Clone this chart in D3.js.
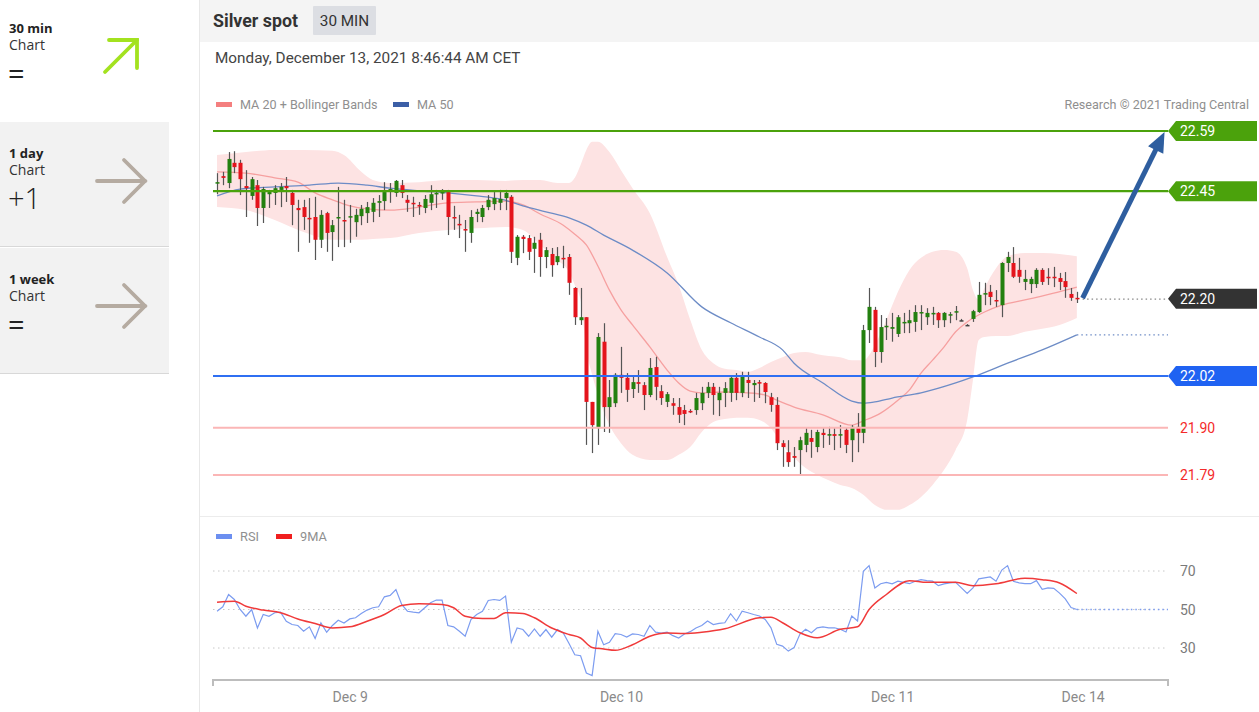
<!DOCTYPE html>
<html><head><meta charset="utf-8">
<script src="https://cdn.jsdelivr.net/npm/d3@7"></script>
<style>
body{margin:0;background:#fff;overflow:hidden}
svg{display:block}
</style></head><body>
<svg id="chart" width="1259" height="712"></svg>
<script>
// ---------------- DATA ----------------
const candleOpen = [
22.469,22.485,22.469,22.516,22.516,22.462,22.439,22.464,22.411,22.443,
22.446,22.453,22.462,22.446,22.411,22.413,22.388,22.390,22.337,22.399,
22.355,22.388,22.383,22.390,22.378,22.392,22.399,22.402,22.423,22.427,
22.453,22.446,22.464,22.430,22.423,22.418,22.411,22.423,22.443,22.446,
22.448,22.390,22.374,22.362,22.353,22.397,22.390,22.413,22.420,22.423,
22.434,22.437,22.295,22.344,22.341,22.316,22.337,22.297,22.304,22.285,
22.295,22.297,22.225,22.150,22.157,21.960,21.899,22.100,21.948,21.957,
22.023,22.016,21.990,22.006,21.999,21.976,22.041,21.985,21.960,21.957,
21.948,21.941,21.939,21.941,21.957,21.981,21.995,21.964,21.981,21.981,
22.016,21.981,22.011,21.999,22.006,22.004,21.971,21.953,21.864,21.843,
21.834,21.848,21.860,21.876,21.855,21.888,21.883,21.885,21.883,21.895,
21.871,21.902,21.888,22.127,22.174,22.076,22.134,22.130,22.118,22.143,
22.143,22.146,22.167,22.157,22.164,22.167,22.150,22.162,22.169,22.150,
22.139,22.153,22.169,22.211,22.216,22.197,22.185,22.283,22.283,22.267,
22.239,22.234,22.234,22.267,22.251,22.251,22.248,22.241,22.211,22.202];
const candleHigh = [
22.492,22.495,22.541,22.543,22.523,22.499,22.483,22.476,22.460,22.453,
22.464,22.469,22.483,22.453,22.430,22.430,22.434,22.437,22.406,22.402,
22.383,22.460,22.430,22.418,22.409,22.418,22.425,22.434,22.441,22.471,
22.469,22.476,22.476,22.441,22.437,22.425,22.441,22.464,22.453,22.455,
22.453,22.416,22.395,22.383,22.406,22.409,22.418,22.441,22.448,22.453,
22.453,22.441,22.348,22.348,22.348,22.344,22.353,22.320,22.318,22.320,
22.323,22.304,22.227,22.225,22.157,21.960,22.120,22.143,22.011,22.027,
22.088,22.027,22.018,22.034,22.006,22.062,22.065,21.999,21.983,21.969,
21.969,21.953,21.943,21.981,21.995,22.006,22.004,21.995,22.006,22.018,
22.027,22.030,22.030,22.011,22.011,22.006,21.981,21.971,21.871,21.871,
21.855,21.879,21.899,21.895,21.895,21.899,21.902,21.899,21.906,21.899,
21.906,21.934,22.139,22.225,22.181,22.162,22.155,22.167,22.162,22.167,
22.174,22.185,22.185,22.178,22.181,22.169,22.169,22.169,22.183,22.153,
22.141,22.174,22.239,22.237,22.232,22.220,22.285,22.309,22.320,22.295,
22.267,22.251,22.271,22.271,22.271,22.274,22.260,22.262,22.225,22.216];
const candleLow = [
22.443,22.464,22.457,22.492,22.441,22.390,22.430,22.369,22.376,22.411,
22.418,22.413,22.425,22.371,22.309,22.360,22.330,22.290,22.318,22.309,
22.288,22.320,22.320,22.330,22.344,22.371,22.376,22.378,22.390,22.406,
22.423,22.437,22.434,22.402,22.390,22.395,22.399,22.406,22.411,22.430,
22.348,22.360,22.341,22.309,22.330,22.378,22.378,22.406,22.406,22.406,
22.406,22.283,22.278,22.306,22.290,22.260,22.251,22.271,22.251,22.278,
22.271,22.209,22.139,22.139,21.860,21.841,21.860,21.890,21.888,21.948,
21.981,21.960,21.969,21.981,21.941,21.971,21.964,21.953,21.948,21.930,
21.911,21.906,21.934,21.930,21.941,21.969,21.930,21.927,21.948,21.960,
21.964,21.971,21.969,21.960,21.969,21.957,21.937,21.848,21.809,21.809,
21.809,21.790,21.843,21.830,21.843,21.853,21.860,21.848,21.853,21.841,
21.820,21.843,21.864,22.097,22.041,22.051,22.104,22.100,22.111,22.120,
22.120,22.123,22.127,22.139,22.139,22.132,22.134,22.143,22.150,22.148,
22.137,22.146,22.167,22.185,22.185,22.181,22.157,22.262,22.248,22.237,
22.220,22.213,22.225,22.232,22.232,22.227,22.220,22.202,22.195,22.190];
const candleClose = [
22.471,22.481,22.525,22.506,22.478,22.457,22.478,22.411,22.455,22.448,
22.457,22.460,22.457,22.418,22.406,22.390,22.385,22.337,22.395,22.353,
22.371,22.390,22.381,22.392,22.395,22.409,22.413,22.423,22.427,22.448,
22.455,22.474,22.446,22.423,22.420,22.416,22.432,22.443,22.446,22.448,
22.390,22.388,22.371,22.360,22.390,22.402,22.411,22.430,22.434,22.432,
22.446,22.309,22.344,22.339,22.309,22.330,22.297,22.313,22.278,22.299,
22.292,22.237,22.157,22.157,21.960,21.906,22.111,21.948,21.971,22.023,
22.016,21.988,22.006,22.002,21.976,22.039,21.995,21.969,21.978,21.951,
21.930,21.932,21.937,21.969,21.981,21.995,21.976,21.981,21.992,22.016,
21.981,22.018,22.004,22.004,22.004,21.983,21.953,21.864,21.855,21.820,
21.830,21.871,21.888,21.867,21.890,21.883,21.885,21.881,21.885,21.860,
21.902,21.888,22.127,22.181,22.076,22.134,22.137,22.134,22.157,22.146,
22.150,22.169,22.169,22.167,22.167,22.150,22.167,22.164,22.171,22.150,
22.139,22.171,22.209,22.213,22.204,22.195,22.283,22.297,22.251,22.251,
22.246,22.246,22.267,22.239,22.248,22.248,22.239,22.227,22.202,22.199];

// Bollinger bands (MA 20 +/- 2 sd) at these bar indices
const bbIdx   = [0,5,10,15,20,22,25,27,30,35,40,45,50,53,56,59,61,62,63,64,65,66,68,70,72,75,78,80,82,84,86,88,90,92,94,96,98,100,102,104,106,108,110,112,114,116,118,120,122,124,126,128,130,131,132,133,135,137,140,143,146,149];
const bbUpper = [22.534,22.541,22.546,22.546,22.544,22.534,22.495,22.476,22.469,22.471,22.476,22.476,22.474,22.476,22.476,22.469,22.469,22.481,22.511,22.546,22.565,22.565,22.541,22.499,22.457,22.399,22.297,22.232,22.151,22.081,22.050,22.037,22.034,22.030,22.039,22.053,22.064,22.074,22.076,22.071,22.067,22.064,22.057,22.057,22.092,22.151,22.216,22.267,22.295,22.309,22.313,22.309,22.271,22.220,22.197,22.225,22.271,22.299,22.306,22.306,22.304,22.299];
const bbLower = [22.413,22.406,22.383,22.355,22.337,22.337,22.337,22.339,22.341,22.353,22.360,22.364,22.367,22.360,22.325,22.290,22.262,22.232,22.197,22.081,22.023,21.976,21.906,21.864,21.837,21.825,21.825,21.837,21.855,21.890,21.913,21.920,21.923,21.923,21.918,21.899,21.860,21.830,21.806,21.790,21.778,21.767,21.760,21.744,21.720,21.709,21.709,21.720,21.739,21.767,21.802,21.848,21.918,22.011,22.104,22.111,22.113,22.113,22.123,22.130,22.139,22.155];

const ma20Idx = [0,5,10,14,17,20,23,26,30,35,40,45,50,53,56,60,62,64,66,68,70,72,75,78,80,82,84,88,92,95,97,100,105,110,112,115,118,120,122,124,126,128,130,133,136,140,145,149];
const ma20Val = [22.495,22.492,22.481,22.471,22.446,22.430,22.416,22.409,22.406,22.413,22.423,22.425,22.427,22.418,22.397,22.371,22.350,22.325,22.276,22.220,22.174,22.139,22.088,22.034,22.004,21.985,21.981,21.983,21.981,21.976,21.964,21.948,21.930,21.906,21.916,21.934,21.964,21.988,22.027,22.057,22.088,22.123,22.146,22.169,22.185,22.197,22.213,22.227];

const ma50Idx = [0,4,10,16,21,26,30,35,40,45,49,53,57,61,64,67,72,78,84,89,94,98,100,105,110,112,114,117,122,128,131,137,143,149];
const ma50Val = [22.439,22.455,22.460,22.464,22.469,22.464,22.457,22.451,22.446,22.439,22.432,22.416,22.402,22.388,22.371,22.348,22.313,22.260,22.181,22.144,22.111,22.081,22.050,22.004,21.962,21.957,21.960,21.969,21.981,22.004,22.018,22.050,22.081,22.116];

const rsiVal = [
49.1,51.4,57.8,55.2,50.0,46.5,50.0,40.4,47.4,46.5,
48.3,48.6,43.9,42.2,41.7,38.7,41.0,34.9,43.0,38.2,
41.7,44.4,43.0,45.1,45.7,47.9,49.7,50.9,51.4,56.6,
57.3,60.4,52.6,49.1,48.6,48.3,50.9,53.5,54.9,54.9,
41.7,41.0,38.7,36.1,44.8,47.4,49.1,54.7,55.2,54.7,
57.0,33.0,40.4,39.6,36.1,39.9,36.1,39.6,35.6,39.6,
37.8,32.3,26.5,26.0,17.0,15.7,38.7,31.7,33.0,37.5,
37.0,35.7,37.3,37.0,36.1,41.7,38.2,37.8,38.2,36.4,
35.2,37.3,38.5,40.4,41.7,44.0,42.2,42.8,43.1,47.8,
44.0,49.1,48.3,47.4,46.6,44.8,40.5,31.9,31.0,28.4,
30.2,37.1,39.7,37.9,40.5,41.0,40.5,40.5,39.7,38.3,
46.6,44.0,69.8,72.8,61.2,63.4,64.1,63.3,64.7,64.1,
63.4,64.7,65.5,65.0,64.7,62.4,63.3,63.8,64.1,61.2,
58.3,61.2,65.9,66.4,66.9,64.7,70.5,72.8,64.7,63.8,
63.4,63.4,65.0,60.5,61.2,61.0,58.5,55.5,51.0,50.0];
const rsiMaIdx = [0,3,5,8,11,14,17,20,23,26,29,32,35,39,41,43,46,48,50,53,55,58,61,63,65,67,69,72,75,78,81,84,88,94,96,98,101,104,108,111,113,116,120,123,128,131,135,140,143,146,149];
const rsiMaVal = [53.8,54.3,51.7,49.7,48.3,45.1,42.7,40.4,41.0,43.9,47.4,52.1,53.0,52.6,50.9,46.5,45.3,45.3,48.3,47.9,45.7,40.4,37.0,35.2,30.3,29.5,28.8,31.7,36.1,37.8,37.5,38.2,40.0,45.7,46.0,43.1,37.9,35.3,39.7,41.0,50.0,57.8,65.0,64.1,64.1,62.4,63.4,66.2,65.5,63.8,58.3];

const levelValues = [22.59, 22.45, 22.20, 22.02, 21.90, 21.79];
const levelKinds  = ['resistance','resistance','last','pivot','support','support'];
const targetLevel = 22.59;

const xTickIdx    = [23, 70, 117, 150];
const xTickLabels = ['Dec 9','Dec 10','Dec 11','Dec 14'];
const rsiTicks    = [30, 50, 70];

const panelTitles = ['30 min','1 day','1 week'];
const panelScores = ['=','+1','='];
const panelDirs   = ['up','flat','flat'];

// ---------------- DRAWING ----------------
const svg = d3.select('#chart');
const FONT = 'Roboto, "Liberation Sans", Arial, sans-serif';
const PFONT = '"Open Sans", Lato, sans-serif';

const x = d3.scaleLinear().domain([-0.7, 164.8]).range([213, 1168]);
const y = d3.scaleLinear().domain([21.79, 22.59]).range([475, 131]);
const yR = d3.scaleLinear().domain([30, 70]).range([648, 571]);

// left panel
const panelY = [0, 122, 248];
const panelH = [122, 125, 126];
panelTitles.forEach((t, k) => {
  const g = svg.append('g').attr('transform', `translate(0,${panelY[k]})`);
  g.append('rect').attr('width', 169).attr('height', panelH[k]).attr('fill', k === 0 ? '#fff' : '#f2f2f2');
  if (k > 0) g.append('line').attr('x1', 0).attr('x2', 169).attr('y1', panelH[k] - 0.5).attr('y2', panelH[k] - 0.5).attr('stroke', '#d8d8d8');
  const base = k === 0 ? 33 : 36;
  g.append('text').attr('x', 9).attr('y', base).text(t)
    .attr('font-family', PFONT).attr('font-weight', 700).attr('font-size', 13).attr('fill', '#222');
  g.append('text').attr('x', 9).attr('y', base + 17).text('Chart')
    .attr('font-family', PFONT).attr('font-size', 14).attr('fill', '#333');
  const isEq = panelScores[k] === '=';
  g.append('text').attr('x', 8).attr('y', base + 51).text(panelScores[k])
    .attr('font-family', PFONT).attr('font-weight', isEq ? 400 : 300).attr('font-size', 29).attr('fill', '#222');
  const col = panelDirs[k] === 'up' ? '#a3e21f' : '#b5aba1';
  const ag = g.append('g').attr('stroke', col).attr('stroke-width', 3.8).attr('stroke-linecap', 'round').attr('fill', 'none');
  if (panelDirs[k] === 'up') {
    ag.append('line').attr('x1', 105).attr('y1', 72).attr('x2', 137).attr('y2', 40);
    ag.append('polyline').attr('points', '109,40 137,40 137,68');
  } else {
    const cy = k === 1 ? 59 : 58;
    ag.append('line').attr('x1', 97).attr('y1', cy).attr('x2', 145).attr('y2', cy);
    ag.append('polyline').attr('points', `124,${cy - 21} 145,${cy} 124,${cy + 21}`);
  }
});
svg.append('line').attr('x1', 199.5).attr('x2', 199.5).attr('y1', 0).attr('y2', 712).attr('stroke', '#e8e8e8');

// header
svg.append('rect').attr('x', 200).attr('y', 0).attr('width', 1059).attr('height', 42).attr('fill', '#f4f4f4');
svg.append('text').attr('x', 213).attr('y', 27).text('Silver spot')
  .attr('font-family', FONT).attr('font-weight', 700).attr('font-size', 17.8).attr('fill', '#333');
svg.append('rect').attr('x', 313).attr('y', 6).attr('width', 63).attr('height', 29).attr('fill', '#dcdee3').attr('rx', 1);
svg.append('text').attr('x', 344.5).attr('y', 26).attr('text-anchor', 'middle').text('30 MIN')
  .attr('font-family', FONT).attr('font-size', 15.3).attr('fill', '#333');
svg.append('text').attr('x', 215).attr('y', 63).text('Monday, December 13, 2021 8:46:44 AM CET')
  .attr('font-family', FONT).attr('font-size', 15.3).attr('fill', '#444');

// legend
const leg = [[216, '#f47f7f', 'MA 20 + Bollinger Bands'], [393, '#3c5fa6', 'MA 50']];
leg.forEach(([lx, c, t]) => {
  svg.append('rect').attr('x', lx).attr('y', 102).attr('width', 16).attr('height', 5).attr('fill', c);
  svg.append('text').attr('x', lx + 24).attr('y', 109).text(t)
    .attr('font-family', FONT).attr('font-size', 12.6).attr('fill', '#8f8f8f');
});
svg.append('text').attr('x', 1249).attr('y', 109).attr('text-anchor', 'end').text('Research © 2021 Trading Central')
  .attr('font-family', FONT).attr('font-size', 12.6).attr('fill', '#8f8f8f');

// bollinger area
const bb = bbIdx.map((d, k) => ({i: d, u: bbUpper[k], l: bbLower[k]}));
svg.append('path').datum(bb)
  .attr('d', d3.area().x(d => x(d.i)).y0(d => y(d.l)).y1(d => y(d.u)).curve(d3.curveMonotoneX))
  .attr('fill', '#fde3e3');

// MA20 and MA50
svg.append('path').datum(ma20Idx.map((d, k) => [d, ma20Val[k]]))
  .attr('d', d3.line().x(d => x(d[0])).y(d => y(d[1])).curve(d3.curveMonotoneX))
  .attr('fill', 'none').attr('stroke', '#f6a0a0').attr('stroke-width', 1.3);
svg.append('path').datum(ma50Idx.map((d, k) => [d, ma50Val[k]]))
  .attr('d', d3.line().x(d => x(d[0])).y(d => y(d[1])).curve(d3.curveMonotoneX))
  .attr('fill', 'none').attr('stroke', '#6d8cc6').attr('stroke-width', 1.3);

// candles
const candles = candleOpen.map((o, i) => ({i, o, h: candleHigh[i], l: candleLow[i], c: candleClose[i]}));
const cg = svg.append('g');
const bw = 4;
cg.selectAll('line.w').data(candles).join('line')
  .attr('x1', d => Math.round(x(d.i)) + 0.5).attr('x2', d => Math.round(x(d.i)) + 0.5)
  .attr('y1', d => y(d.h)).attr('y2', d => y(d.l))
  .attr('stroke', '#555').attr('stroke-width', 1.2);
cg.selectAll('rect.b').data(candles).join('rect')
  .attr('x', d => Math.round(x(d.i)) + 0.5 - bw / 2)
  .attr('y', d => y(Math.max(d.o, d.c)))
  .attr('width', bw)
  .attr('height', d => Math.max(1.5, Math.abs(y(d.o) - y(d.c))))
  .attr('fill', d => d.c > d.o ? '#23800f' : (d.c < d.o ? '#e4141c' : '#444'));

// level lines
const lastClose = candleClose[candleClose.length - 1];
const lastIdx = candleClose.length - 1;
const lvStyle = {
  resistance: {stroke: '#4ba20c', w: 2.2, box: '#4ba20c'},
  pivot: {stroke: '#2f6ff2', w: 2, box: '#1f62f2'},
  support: {stroke: '#fbb6b6', w: 2, box: null},
  last: {stroke: null, w: 0, box: '#333333'}
};
// dotted extensions
svg.append('line').attr('x1', x(lastIdx + 1)).attr('x2', x(164.8)).attr('y1', y(lastClose)).attr('y2', y(lastClose))
  .attr('stroke', '#888').attr('stroke-width', 1.3).attr('stroke-dasharray', '1.5,3');
svg.append('line').attr('x1', x(lastIdx)).attr('x2', x(164.8))
  .attr('y1', y(ma50Val[ma50Val.length - 1])).attr('y2', y(ma50Val[ma50Val.length - 1]))
  .attr('stroke', '#6d8cc6').attr('stroke-width', 1.3).attr('stroke-dasharray', '1.5,3');

levelValues.forEach((v, k) => {
  const s = lvStyle[levelKinds[k]];
  const yy = y(v);
  if (s.stroke) svg.append('line').attr('x1', 213).attr('x2', x(164.8)).attr('y1', yy).attr('y2', yy)
    .attr('stroke', s.stroke).attr('stroke-width', s.w);
  const lx = x(164.8);
  if (s.box) {
    svg.append('path').attr('d', `M${lx},${yy} L${lx + 8},${yy - 10} L1257,${yy - 10} L1257,${yy + 10} L${lx + 8},${yy + 10} Z`)
      .attr('fill', s.box);
    svg.append('text').attr('x', lx + 12).attr('y', yy + 5).text(v.toFixed(2))
      .attr('font-family', FONT).attr('font-size', 14).attr('fill', '#fff');
  } else {
    svg.append('text').attr('x', lx + 12).attr('y', yy + 5).text(v.toFixed(2))
      .attr('font-family', FONT).attr('font-size', 14).attr('fill', '#f42a2a');
  }
});

// forecast arrow
(function() {
  const sx = x(lastIdx + 1), sy = y(lastClose) - 1;
  const tx = x(164.2), ty = y(targetLevel) + 1;
  const dx = tx - sx, dy = ty - sy, L = Math.hypot(dx, dy);
  const ux = dx / L, uy = dy / L, nx = -uy, ny = ux;
  const hl = 20, hw = 8.5;
  const bx = tx - ux * hl, by = ty - uy * hl;
  svg.append('line').attr('x1', sx).attr('y1', sy).attr('x2', bx + ux * 2).attr('y2', by + uy * 2)
    .attr('stroke', '#2e5e9f').attr('stroke-width', 5);
  svg.append('path').attr('d', `M${tx},${ty} L${bx + nx * hw},${by + ny * hw} L${bx - nx * hw},${by - ny * hw} Z`)
    .attr('fill', '#2e5e9f');
})();

// separator between panels
svg.append('line').attr('x1', 200).attr('x2', 1259).attr('y1', 516.5).attr('y2', 516.5).attr('stroke', '#ececec');

// RSI panel legend
[[216, '#6c8ff0', 'RSI'], [276, '#f01f1f', '9MA']].forEach(([lx, c, t]) => {
  svg.append('rect').attr('x', lx).attr('y', 534).attr('width', 16).attr('height', 5).attr('fill', c);
  svg.append('text').attr('x', lx + 24).attr('y', 541).text(t)
    .attr('font-family', FONT).attr('font-size', 12.8).attr('fill', '#8f8f8f');
});

// RSI gridlines & labels
rsiTicks.forEach(t => {
  svg.append('line').attr('x1', 213).attr('x2', 1168).attr('y1', yR(t)).attr('y2', yR(t))
    .attr('stroke', '#c8c8c8').attr('stroke-width', 1).attr('stroke-dasharray', '1.5,3.5');
  svg.append('text').attr('x', 1180).attr('y', yR(t) + 5).text(t)
    .attr('font-family', FONT).attr('font-size', 14).attr('fill', '#7a7a7a');
});

// RSI line and MA
svg.append('path').datum(rsiVal)
  .attr('d', d3.line().x((d, i) => x(i)).y(d => yR(d)))
  .attr('fill', 'none').attr('stroke', '#7c9cf0').attr('stroke-width', 1.2);
svg.append('line').attr('x1', x(lastIdx)).attr('x2', x(164.8))
  .attr('y1', yR(rsiVal[lastIdx])).attr('y2', yR(rsiVal[lastIdx]))
  .attr('stroke', '#7c9cf0').attr('stroke-width', 1.3).attr('stroke-dasharray', '1.5,3');
svg.append('path').datum(rsiMaIdx.map((d, k) => [d, rsiMaVal[k]]))
  .attr('d', d3.line().x(d => x(d[0])).y(d => yR(d[1])).curve(d3.curveMonotoneX))
  .attr('fill', 'none').attr('stroke', '#f03a3a').attr('stroke-width', 1.5);

// x axis
const xAxis = d3.axisBottom(x).tickValues(xTickIdx).tickFormat((d, k) => xTickLabels[k]).tickSize(0).tickPadding(12);
const ax = svg.append('g').attr('transform', 'translate(0,680)').call(xAxis);
ax.select('.domain').attr('d', 'M213,6V0H1168V6').attr('stroke', '#bdbdbd').attr('stroke-width', 2).attr('fill', 'none');
ax.selectAll('text').attr('font-family', FONT).attr('font-size', 14).attr('fill', '#8a8a8a');
</script>
</body></html>
